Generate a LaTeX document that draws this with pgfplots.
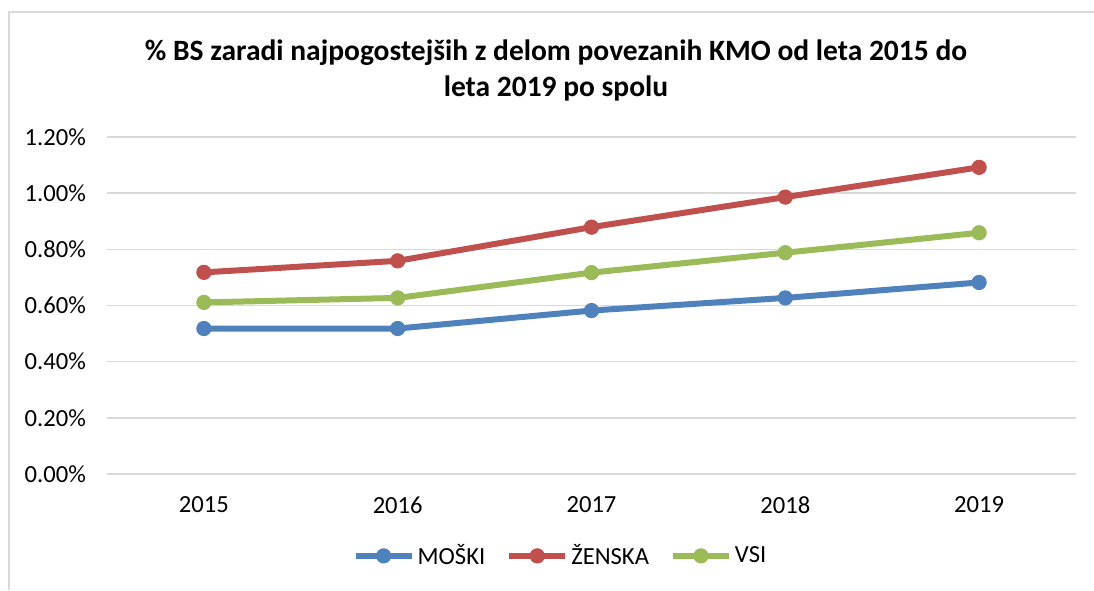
\documentclass[border=0pt]{standalone}
\usepackage{pgfplots}
\pgfplotsset{compat=1.18}
\usepackage{fontspec}
\setmainfont{Carlito}
\definecolor{cblue}{HTML}{4F81BD}
\definecolor{cred}{HTML}{C0504D}
\definecolor{cgreen}{HTML}{9BBB59}
\definecolor{cgrid}{HTML}{D9D9D9}
\begin{document}
\begin{tikzpicture}
\path[use as bounding box] (0,0) rectangle (547pt,295pt);
\draw[cgrid, line width=0.8pt] (4.5pt,0pt) -- (4.5pt,289pt) -- (547pt,289pt);
\node[align=center, font=\fontsize{14.75}{18}\selectfont\bfseries] at (278pt,260pt)
  {\% BS zaradi najpogostejših z delom povezanih KMO od leta 2015 do\\leta 2019 po spolu};
\begin{axis}[
  at={(53.5pt,58pt)}, anchor=south west,
  scale only axis, width=484.5pt, height=168.5pt,
  xmin=-0.5, xmax=4.5, ymin=0, ymax=1.2,
  axis line style={draw=none},
  tick style={draw=none},
  xtick={0,1,2,3,4},
  xticklabels={2015,2016,2017,2018,2019},
  ytick={0,0.2,0.4,0.6,0.8,1.0,1.2},
  yticklabels={0.00\%,0.20\%,0.40\%,0.60\%,0.80\%,1.00\%,1.20\%},
  ymajorgrids, grid style={cgrid, line width=0.75pt},
  ticklabel style={font=\fontsize{12.3}{14}\selectfont},
  yticklabel style={anchor=east, xshift=-7pt},
  xticklabel style={anchor=center, yshift=-15.5pt},
  legend columns=3,
  legend style={at={(0.4685,-0.243)}, anchor=center, draw=none, fill=none,
    font=\fontsize{12.3}{14}\selectfont,
    nodes={inner xsep=1.5pt},
    /tikz/every even column/.append style={column sep=9pt}},
  legend image code/.code={\draw[mark repeat=2,mark phase=2,#1] plot coordinates {(0pt,0pt) (14pt,0pt) (28pt,0pt)};},
  every axis plot/.append style={line width=3pt, mark=*, mark size=3.6pt, mark options={solid, line width=0.4pt}},
]
\addplot[cblue] coordinates {(0,0.518) (1,0.518) (2,0.582) (3,0.627) (4,0.682)};
\addlegendentry{MOŠKI}
\addplot[cred] coordinates {(0,0.718) (1,0.759) (2,0.879) (3,0.986) (4,1.092)};
\addlegendentry{ŽENSKA}
\addplot[cgreen] coordinates {(0,0.611) (1,0.627) (2,0.717) (3,0.788) (4,0.859)};
\addlegendentry{VSI}
\end{axis}
\end{tikzpicture}
\end{document}
